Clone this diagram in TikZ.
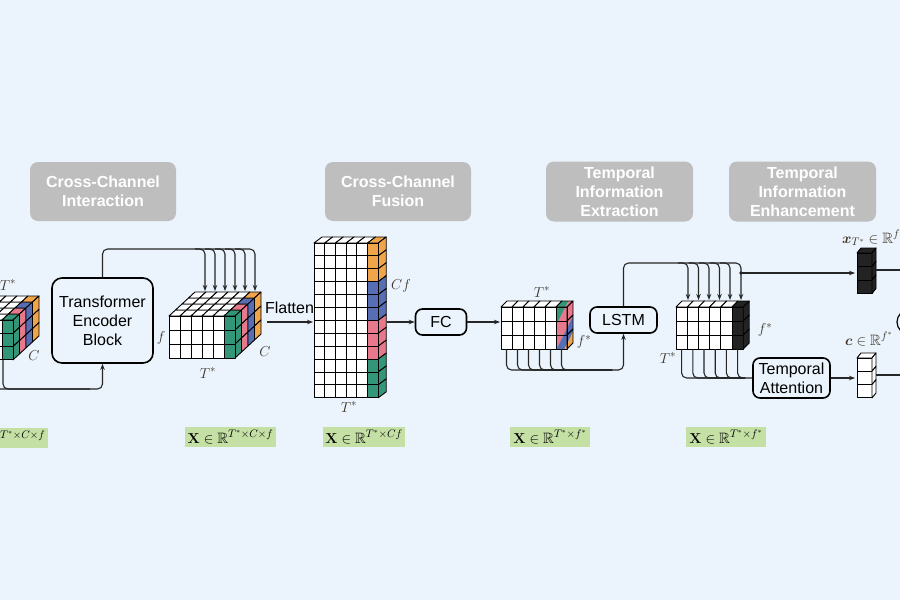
\documentclass[tikz,border=0pt]{standalone}
\usepackage{amsmath,amssymb}
\usepackage[no-math]{fontspec}
\setmainfont{Liberation Sans}
\usetikzlibrary{arrows.meta}
\definecolor{bgc}{RGB}{235,244,252}
\definecolor{hdr}{RGB}{190,190,190}
\definecolor{lblg}{RGB}{197,224,165}
\definecolor{cteal}{RGB}{52,150,120}
\definecolor{cpink}{RGB}{232,120,140}
\definecolor{cblue}{RGB}{88,110,180}
\definecolor{corng}{RGB}{240,165,75}
\definecolor{cblk}{RGB}{35,35,35}
\definecolor{dimc}{RGB}{60,50,40}
\newcommand\cubeset[7]{\def\cuX{#1}\def\cuY{#2}\def\cuW{#3}\def\cuH{#4}\def\cuOX{#5}\def\cuOY{#6}\def\cuNC{#7}}
\newcommand\topcell[3]{\filldraw[cell,fill=#3] ({\cuX+(#1)*\cuW+(#2)*\cuOX},{\cuY+(#2)*\cuOY}) -- ++({\cuW},0) -- ++({\cuOX},{\cuOY}) -- ++({-1*\cuW},0) -- cycle;}
\newcommand\sidecell[3]{\filldraw[cell,fill=#3] ({\cuX+\cuNC*\cuW+(#1)*\cuOX},{\cuY+(#2)*\cuH+(#1)*\cuOY}) -- ++({\cuOX},{\cuOY}) -- ++(0,{\cuH}) -- ++({-1*\cuOX},{-1*(\cuOY)}) -- cycle;}
\newcommand\frontcell[3]{\filldraw[cell,fill=#3] ({\cuX+(#1)*\cuW},{\cuY+(#2)*\cuH}) rectangle ++({\cuW},{\cuH});}
\begin{document}
\begin{tikzpicture}[x=1pt,y=-1pt,
 cell/.style={draw=black,line width=0.9pt,line join=round},
 hdrbox/.style={fill=hdr,rounded corners=8pt,text=white,font=\fontsize{16}{19}\selectfont\bfseries,align=center,inner sep=0pt},
 blk/.style={draw=black,line width=1.6pt,rounded corners=7pt,fill=bgc,align=center,font=\fontsize{16}{19}\selectfont,inner sep=0pt},
 conn/.style={draw=black!85,line width=1.1pt,rounded corners=5pt},
 arr/.style={-{Stealth[length=6pt,width=4.5pt]}},
 lbl/.style={fill=lblg,inner sep=0pt,minimum height=20pt,font=\fontsize{15}{17}\selectfont},
 dim/.style={text=dimc,font=\fontsize{15}{17}\selectfont,inner sep=0pt}]
\useasboundingbox (0,0) rectangle (900,600);
\clip (0,0) rectangle (900,600);
\fill[bgc] (0,0) rectangle (900,600);

% headers
\node[hdrbox,minimum width=146pt,minimum height=59pt] (h1) at (103,191.5) {Cross-Channel\\Interaction};
\node[hdrbox,minimum width=146pt,minimum height=59pt] (h2) at (398,191.5) {Cross-Channel\\Fusion};
\node[hdrbox,minimum width=147pt,minimum height=60pt] (h3) at (619.5,191.5) {Temporal\\Information\\Extraction};
\node[hdrbox,minimum width=147pt,minimum height=60pt] (h4) at (802.5,191.5) {Temporal\\Information\\Enhancement};

% boxes
\node[blk,minimum width=101pt,minimum height=85pt,rounded corners=10pt] (tf) at (102.5,320.5) {Transformer\\Encoder\\Block};
\node[blk,minimum width=51pt,minimum height=26pt] (fc) at (441,322) {FC};
\node[blk,minimum width=67pt,minimum height=26pt] (lstm) at (623.5,320) {LSTM};
\node[blk,minimum width=77pt,minimum height=40pt] (ta) at (791.5,378) {Temporal\\Attention};

% left cube
\cubeset{-53}{320}{11}{13.3}{6.5}{-6}{6}
\foreach \i in {0,...,4}{\foreach \k in {0,...,3}{\topcell{\i}{\k}{white}}}
\foreach \k/\cc in {0/cteal,1/cpink,2/cblue,3/corng}{\topcell{5}{\k}{\cc}\foreach \j in {0,1,2}{\sidecell{\k}{\j}{\cc}}}
\foreach \i in {0,...,4}{\foreach \j in {0,1,2}{\frontcell{\i}{\j}{white}}}
\foreach \j in {0,1,2}{\frontcell{5}{\j}{cteal}}
\node[dim] (lt) at (8,285) {$T^*$};
\node[dim] (lc) at (34,356) {$C$};

% cube 2
\cubeset{169}{316}{11}{14}{6.5}{-6}{6}
\foreach \i in {0,...,4}{\foreach \k in {0,...,3}{\topcell{\i}{\k}{white}}}
\foreach \k/\cc in {0/cteal,1/cpink,2/cblue,3/corng}{\topcell{5}{\k}{\cc}\foreach \j in {0,1,2}{\sidecell{\k}{\j}{\cc}}}
\foreach \i in {0,...,4}{\foreach \j in {0,1,2}{\frontcell{\i}{\j}{white}}}
\foreach \j in {0,1,2}{\frontcell{5}{\j}{cteal}}
\node[dim] (c2f) at (161,338) {$f$};
\node[dim] (c2t) at (208,373) {$T^*$};
\node[dim] (c2c) at (265,352) {$C$};

% flatten column
\cubeset{314}{243}{10.7}{12.9}{8}{-6}{6}
\foreach \i in {0,...,4}{\topcell{\i}{0}{white}}
\topcell{5}{0}{corng}
\foreach \j/\cc in {0/corng,1/corng,2/corng,3/cblue,4/cblue,5/cblue,6/cpink,7/cpink,8/cpink,9/cteal,10/cteal,11/cteal}{\sidecell{0}{\j}{\cc}\frontcell{5}{\j}{\cc}}
\foreach \i in {0,...,4}{\foreach \j in {0,...,11}{\frontcell{\i}{\j}{white}}}
\node[dim] (cf) at (401,286) {$Cf$};
\node[dim] (colt) at (349,407) {$T^*$};

% grid 1
\cubeset{501}{307}{11}{14}{6}{-6}{6}
\foreach \i in {0,...,4}{\topcell{\i}{0}{white}\foreach \j in {0,1,2}{\frontcell{\i}{\j}{white}}}
\begin{scope}
\clip (556,307) rectangle (567,349)
  (567,307) -- (573,301) -- (573,343) -- (567,349) -- cycle
  (556,307) -- (567,307) -- (573,301) -- (562,301) -- cycle;
\foreach \a/\b/\cc in {1300/1438/cteal,1438/1462/cpink,1462/1478/cblue,1478/1600/corng}{
  \fill[\cc] (540,{\a-2*540}) -- (590,{\a-2*590}) -- (590,{\b-2*590}) -- (540,{\b-2*540}) -- cycle;}
\end{scope}
\topcell{5}{0}{none}
\foreach \j in {0,1,2}{\frontcell{5}{\j}{none}\sidecell{0}{\j}{none}}
\node[dim] (g1t) at (542,292) {$T^*$};
\node[dim] (g1f) at (584,342) {$f^*$};

% grid 2
\cubeset{676}{307}{11.2}{14}{6}{-6}{6}
\foreach \i in {0,...,4}{\topcell{\i}{0}{white}\foreach \j in {0,1,2}{\frontcell{\i}{\j}{white}}}
\topcell{5}{0}{cblk}
\foreach \j in {0,1,2}{\frontcell{5}{\j}{cblk}\sidecell{0}{\j}{cblk}}
\node[dim] (g2f) at (765,330) {$f^*$};
\node[dim] (g2t) at (668,358) {$T^*$};

% vectors
\cubeset{857}{253}{15}{13.5}{4}{-5}{1}
\topcell{0}{0}{cblk}
\foreach \j in {0,1,2}{\frontcell{0}{\j}{cblk}\sidecell{0}{\j}{cblk}}
\cubeset{857}{358}{15}{13.3}{4}{-5}{1}
\topcell{0}{0}{white}
\foreach \j in {0,1,2}{\frontcell{0}{\j}{white}\sidecell{0}{\j}{white}}
\node[dim,anchor=west] (xl) at (842,238) {$\boldsymbol{x}_{T^*}\in\mathbb{R}^{f^*}$};
\node[dim,anchor=west] (cl) at (845,339) {$\boldsymbol{c}\in\mathbb{R}^{f^*}$};
\coordinate (xv) at (855,273);
\coordinate (cv) at (855,378);
\draw[line width=1.2pt] (909,322) circle (12);
\coordinate (xr) at (900,270);
\coordinate (cr) at (900,375);
\draw[conn] (876,270) -- (xr);
\draw[conn] (876,375) -- (cr);

% connectors: transformer
\coordinate (tfb) at (102.5,389);
\draw[conn,arr] (3,360) |- (tfb) -- (tf.south);
\draw[conn] (-9,360) |- (90,389);
\draw[conn,arr] (tf.north) |- (255,249) -- (255,291);
\foreach \x in {205,215,225,235,245}{\draw[conn,arr] ({\x-10},249) -| (\x,291);}

% flatten
\node[font=\fontsize{16}{19}\selectfont,inner sep=0pt] (flt) at (289.5,308) {Flatten};
\coordinate (c2e) at (267,322);
\coordinate (colw) at (313,322);
\draw[conn,arr] (c2e) -- (colw);
\coordinate (cole) at (387,322);
\draw[conn,arr] (cole) -- (fc.west);
\coordinate (g1w) at (500,322);
\draw[conn,arr] (fc.east) -- (g1w);

% grid1 -> LSTM
\coordinate (g1b) at (623.5,370);
\draw[conn,arr] (506.5,349) |- (g1b) -- (lstm.south);
\foreach \i in {1,...,5}{\draw[conn] ({506.5+11*\i},349) |- (612,370);}

% LSTM -> grid2
\draw[conn,arr] (lstm.north) |- (741,263) -- (741,300);
\foreach \x in {688,698.5,709,719.5,730}{\draw[conn,arr] ({\x-10},263) -| (\x,300);}
\fill[black!85] (741,273) circle (1.8);
\draw[conn,arr] (741,273) -- (xv);

% grid2 -> TA
\draw[conn] (681.6,349) |- (ta.west);
\foreach \i in {1,...,5}{\draw[conn] ({681.6+11.2*\i},349) |- (745,378);}
\draw[conn,arr] (ta.east) -- (cv);

% labels
\node[lbl,minimum width=91pt] (lab1) at (2.5,438) {$\mathbf{X}\in\mathbb{R}^{T^*\times C\times f}$};
\node[lbl,minimum width=91pt] (lab2) at (230.5,437) {$\mathbf{X}\in\mathbb{R}^{T^*\times C\times f}$};
\node[lbl,minimum width=82pt] (lab3) at (364,437) {$\mathbf{X}\in\mathbb{R}^{T^*\times Cf}$};
\node[lbl,minimum width=80pt] (lab4) at (550,437) {$\mathbf{X}\in\mathbb{R}^{T^*\times f^*}$};
\node[lbl,minimum width=80pt] (lab5) at (726,437) {$\mathbf{X}\in\mathbb{R}^{T^*\times f^*}$};
\end{tikzpicture}
\end{document}
